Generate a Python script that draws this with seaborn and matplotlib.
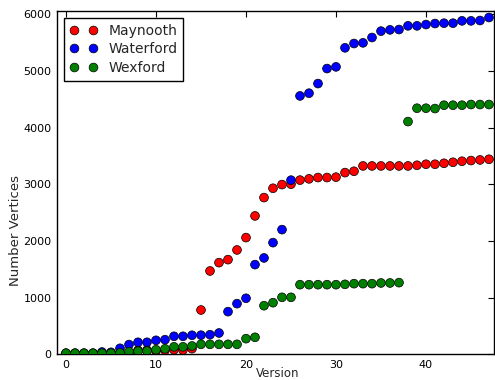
import numpy as np
import pandas as pd
import seaborn as sns
import matplotlib
matplotlib.use("Agg")
import matplotlib.pyplot as plt
from matplotlib.lines import Line2D

versions = list(range(48))

maynooth = [10, 10, 10, 10, 15, 15, 15, 20, 70, 75, 60, 70, 81, 76, 100,
            782, 1471, 1618, 1671, 1842, 2060, 2443, 2766, 2931, 2996, 3003,
            3075, 3097, 3120, 3120, 3127, 3207, 3231, 3325, 3325, 3325, 3325,
            3325, 3325, 3337, 3355, 3355, 3372, 3390, 3408, 3420, 3431, 3443]

waterford = [20, 20, 20, 20, 40, 35, 106, 172, 212, 212, 247, 258, 318, 318,
             336, 338, 346, 376, 753, 894, 989, 1583, 1701, 1971, 2201, 3074,
             4561, 4609, 4779, 5044, 5074, 5410, 5486, 5498, 5592, 5705, 5727,
             5733, 5798, 5798, 5821, 5839, 5845, 5845, 5886, 5886, 5892, 5945]

wexford = [20, 20, 20, 20, 20, 20, 25, 46, 55, 58, 81, 97, 132, 132, 147,
           176, 176, 176, 176, 176, 276, 300, 858, 911, 1006, 1006, 1229,
           1229, 1229, 1229, 1229, 1235, 1247, 1247, 1247, 1259, 1259, 1265,
           4108, 4344, 4344, 4338, 4397, 4397, 4397, 4409, 4409, 4409]

series_names = ["Maynooth", "Waterford", "Wexford"]
colors = {"Maynooth": "#ff0000", "Waterford": "#0000ff", "Wexford": "#008000"}

x_ticks = [0, 10, 20, 30, 40]
y_ticks = [0, 1000, 2000, 3000, 4000, 5000, 6000]

df = pd.concat([
    pd.DataFrame({"Version": versions, "Number Vertices": vals, "Site": name})
    for name, vals in zip(series_names, [maynooth, waterford, wexford])
], ignore_index=True)

sns.set_style("white")
plt.rcParams["font.family"] = ["DejaVu Sans"]

fig = plt.figure(figsize=(4.95, 3.8), dpi=100)
ax = fig.add_axes([57 / 495, (380 - 354.3) / 380, 437.4 / 495, (354.3 - 11) / 380])

sns.scatterplot(data=df, x="Version", y="Number Vertices", hue="Site",
                palette=colors, s=40, edgecolor="black", linewidth=0.5,
                legend=False, ax=ax, zorder=3)

ax.set_xlim(-1, 47.6)
ax.set_ylim(0, 6060)
ax.set_xticks(x_ticks)
ax.set_yticks(y_ticks)
ax.tick_params(direction="in", length=4, width=0.8, top=True, right=True,
               labelsize=8, pad=4, colors="black")
for sp in ax.spines.values():
    sp.set_visible(True)
    sp.set_color("black")
    sp.set_linewidth(1.0)
ax.set_xlabel("Version", fontsize=8.5)
ax.xaxis.set_label_coords((278 - 57) / 437.4, -(373.5 - 354.3) / 343.3)
ax.xaxis.label.set_va("center")
ax.set_ylabel("Number Vertices", fontsize=9.5)
ax.yaxis.set_label_coords((16 - 57) / 437.4, (354.3 - 230) / 343.3)
ax.yaxis.label.set_va("center")

handles = [Line2D([0], [0], marker="o", linestyle="none", markersize=6.3,
                  markerfacecolor=colors[n], markeredgecolor="black",
                  markeredgewidth=0.5) for n in series_names]
leg = ax.legend(handles, series_names, loc="upper left", numpoints=2,
                fontsize=10, frameon=True, fancybox=False, framealpha=1,
                edgecolor="black", borderaxespad=0.5, handlelength=2.0,
                labelspacing=0.35)
leg.get_frame().set_linewidth(1.0)

fig.savefig("out.png", dpi=100)
